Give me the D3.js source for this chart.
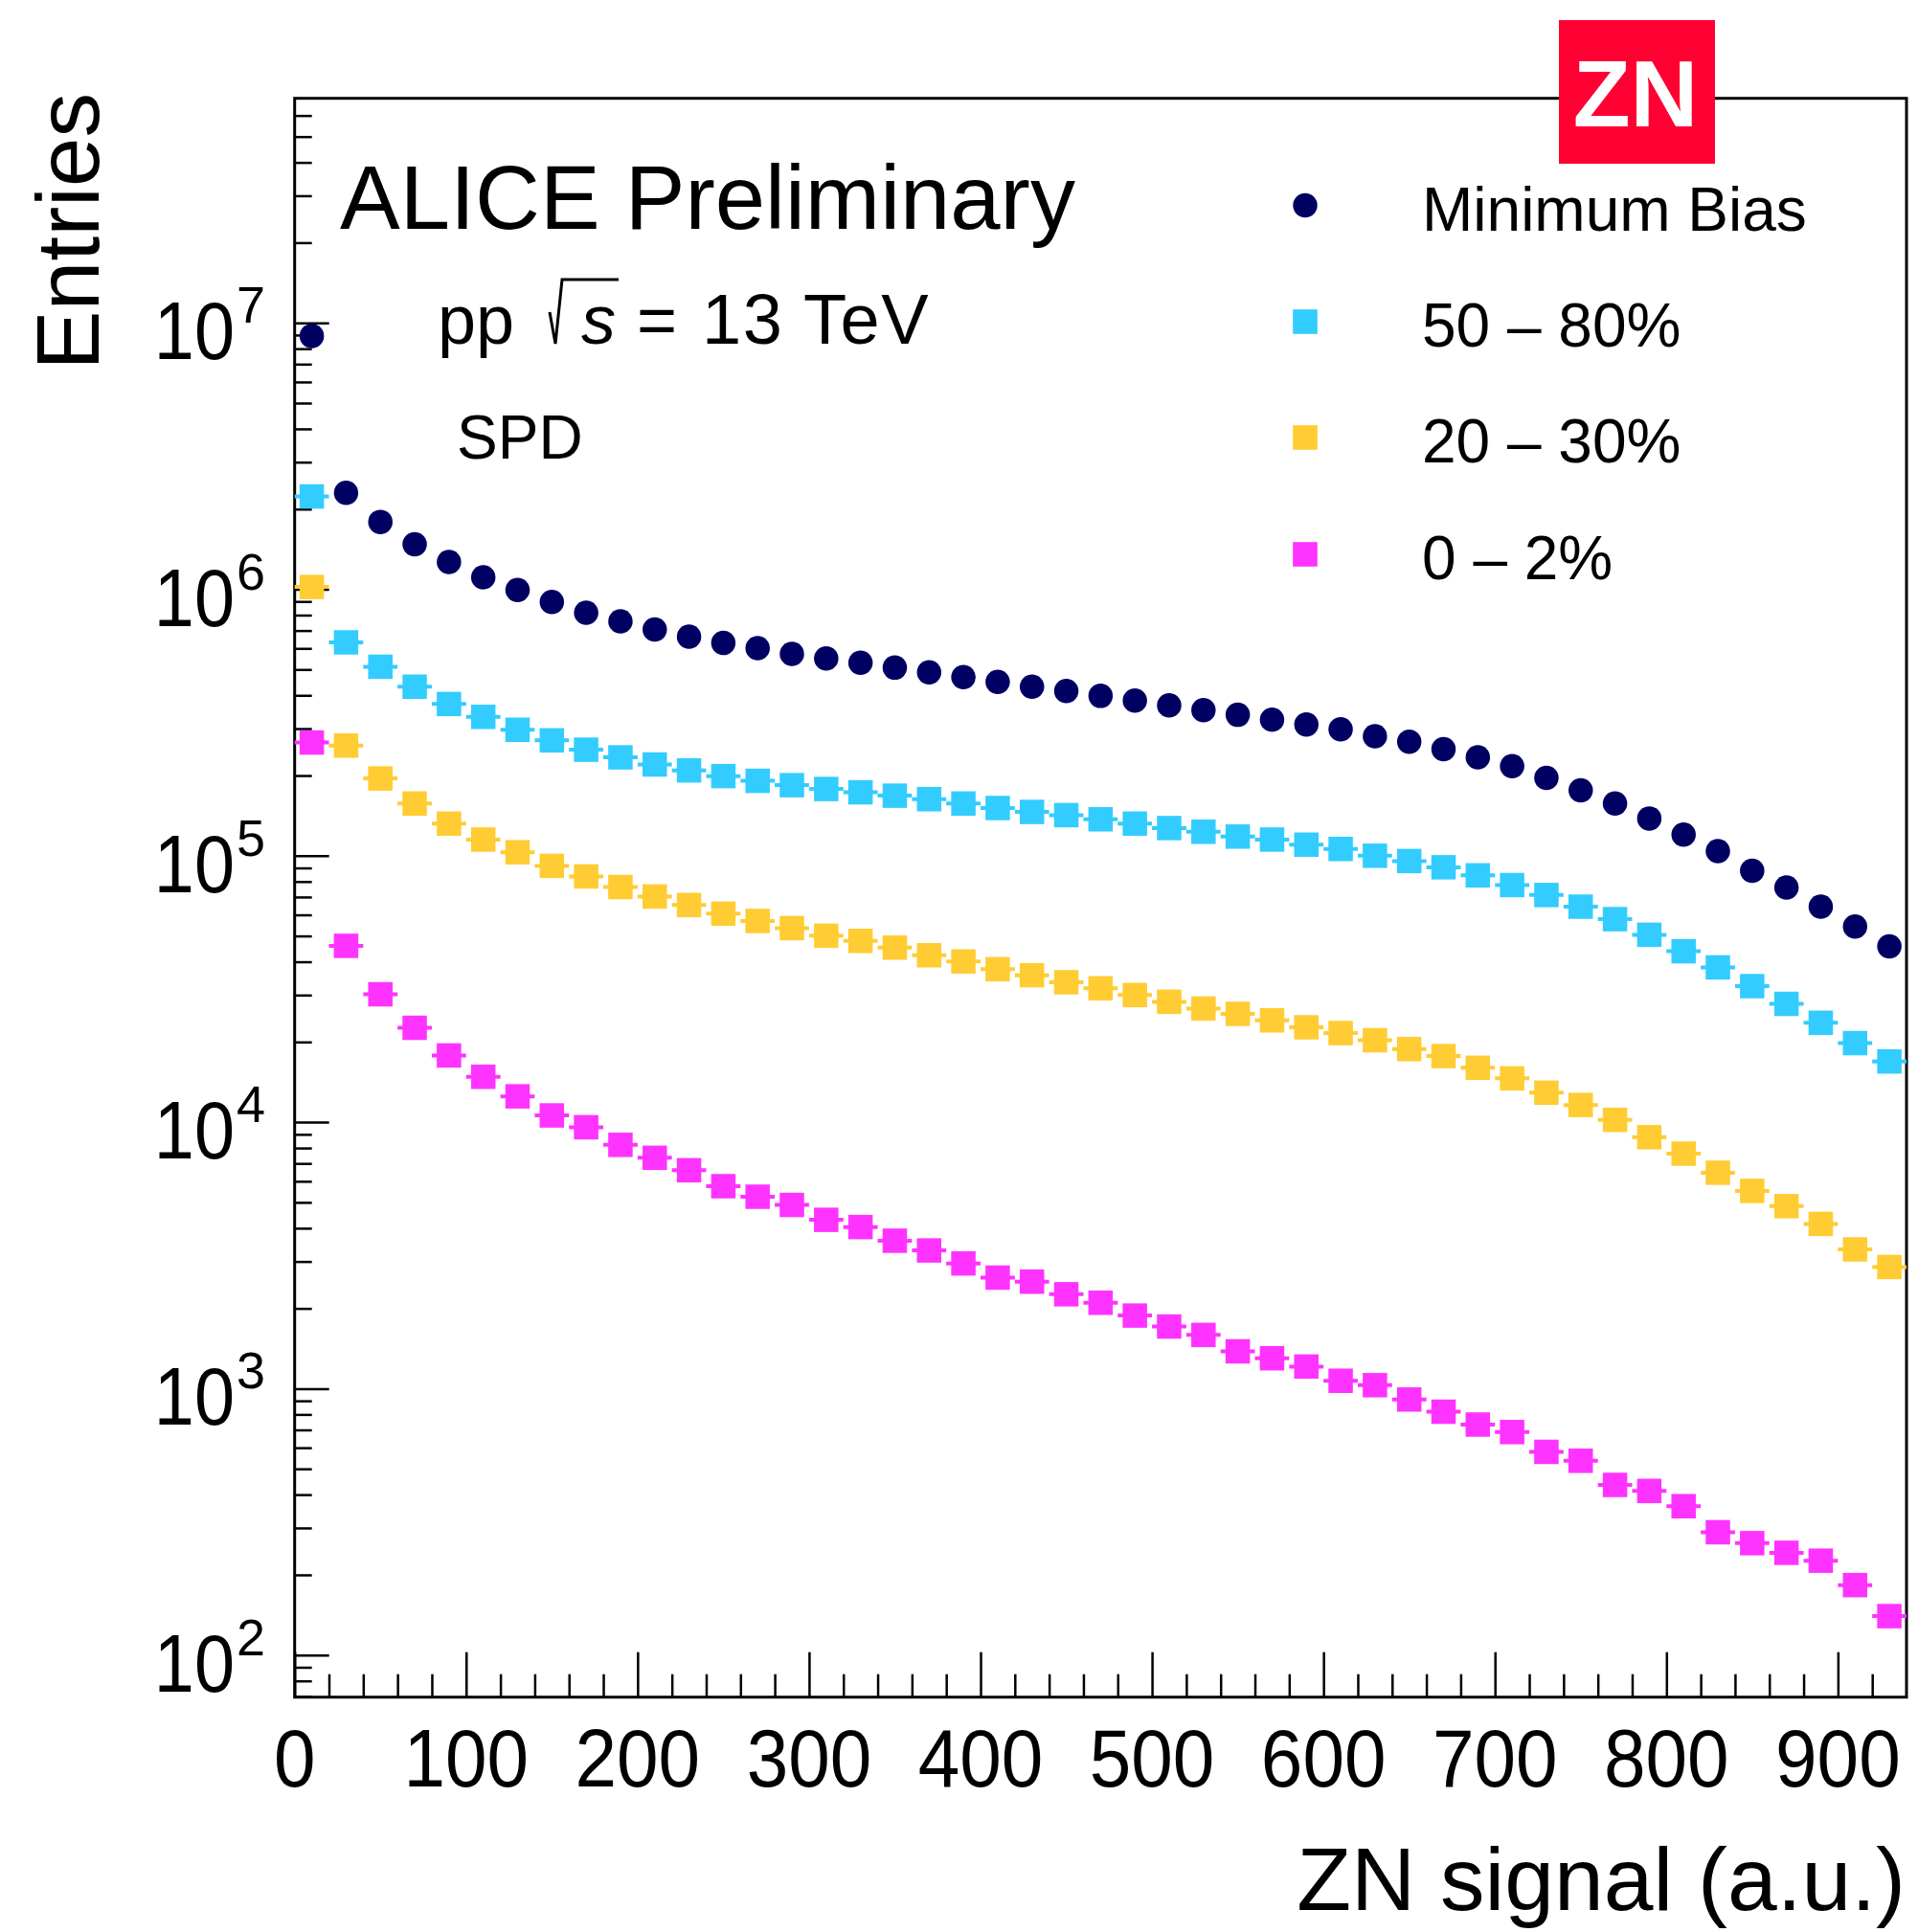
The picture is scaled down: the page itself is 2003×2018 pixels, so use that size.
<!DOCTYPE html>
<html>
<head>
<meta charset="utf-8">
<script src="https://cdn.jsdelivr.net/npm/d3@7"></script>
<style>
body { margin: 0; background: #fff; }
text { font-family: "Liberation Sans", Arial, Helvetica, sans-serif; fill: #000; }
</style>
</head>
<body>
<svg id="chart" width="2003" height="2018"></svg>
<script>
// bin centres of the ZN signal histogram (bin width 20)
var binCenters = [10, 30, 50, 70, 90, 110, 130, 150, 170, 190,
    210, 230, 250, 270, 290, 310, 330, 350, 370, 390,
    410, 430, 450, 470, 490, 510, 530, 550, 570, 590,
    610, 630, 650, 670, 690, 710, 730, 750, 770, 790,
    810, 830, 850, 870, 890, 910, 930];

var minBias = [8.93e6, 2.30e6, 1.79e6, 1.476e6, 1.267e6, 1.11e6, 9.93e5, 8.96e5, 8.17e5, 7.58e5,
    7.07e5, 6.64e5, 6.29e5, 6.01e5, 5.72e5, 5.5e5, 5.30e5, 5.08e5, 4.88e5, 4.68e5,
    4.49e5, 4.31e5, 4.15e5, 3.98e5, 3.82e5, 3.67e5, 3.52e5, 3.38e5, 3.24e5, 3.11e5,
    2.98e5, 2.81e5, 2.68e5, 2.51e5, 2.34e5, 2.17e5, 1.96e5, 1.76e5, 1.57e5, 1.38e5,
    1.20e5, 1.04e5, 8.79e4, 7.60e4, 6.44e4, 5.42e4, 4.57e4];

var cent50to80 = [2.23e6, 6.32e5, 5.12e5, 4.31e5, 3.71e5, 3.32e5, 2.97e5, 2.71e5, 2.50e5, 2.34e5,
    2.20e5, 2.09e5, 1.99e5, 1.91e5, 1.84e5, 1.78e5, 1.73e5, 1.68e5, 1.63e5, 1.57e5,
    1.51e5, 1.46e5, 1.42e5, 1.37e5, 1.32e5, 1.27e5, 1.23e5, 1.18e5, 1.15e5, 1.10e5,
    1.06e5, 1.00e5, 9.55e4, 9.05e4, 8.44e4, 7.76e4, 7.12e4, 6.44e4, 5.78e4, 5.05e4,
    4.38e4, 3.81e4, 3.24e4, 2.78e4, 2.36e4, 1.98e4, 1.69e4];

var cent20to30 = [1.02e6, 2.59e5, 1.95e5, 1.57e5, 1.32e5, 1.15e5, 1.03e5, 9.16e4, 8.36e4, 7.63e4,
    7.03e4, 6.53e4, 6.06e4, 5.69e4, 5.35e4, 5.01e4, 4.79e4, 4.52e4, 4.23e4, 4.01e4,
    3.75e4, 3.56e4, 3.35e4, 3.18e4, 3.00e4, 2.83e4, 2.67e4, 2.55e4, 2.41e4, 2.27e4,
    2.16e4, 2.03e4, 1.88e4, 1.77e4, 1.60e4, 1.46e4, 1.29e4, 1.16e4, 1.02e4, 8780,
    7620, 6460, 5520, 4840, 4150, 3330, 2860];

var cent0to2 = [2.66e5, 4.59e4, 3.02e4, 2.26e4, 1.78e4, 1.48e4, 1.25e4, 1.06e4, 9570, 8220,
    7350, 6600, 5750, 5250, 4890, 4300, 4040, 3590, 3300, 2950,
    2610, 2520, 2260, 2100, 1880, 1710, 1590, 1380, 1300, 1210,
    1070, 1030, 910, 819, 733, 687, 579, 536, 435, 413,
    362, 289, 263, 242, 226, 183, 140];

var seriesNames = ["Minimum Bias", "50 \u2013 80%", "20 \u2013 30%", "0 \u2013 2%"];
var seriesColors = ["#000062", "#33ccff", "#ffcc33", "#ff33ff"];
var seriesMarkers = ["circle", "square", "square", "square"];

var xTickLabels = [0, 100, 200, 300, 400, 500, 600, 700, 800, 900];
var yDecades = [1e2, 1e3, 1e4, 1e5, 1e6, 1e7];
var yExponents = ["2", "3", "4", "5", "6", "7"];

window.onload = function(e) {
    var svg = d3.select("#chart");
    var left = 307.7, right = 1991, top = 102.7, bottom = 1772.7;
    var binWidth = 20;

    var x = d3.scaleLinear().domain([0, 940]).range([left, right]);
    var y = d3.scaleLog().domain([69.5, 6.96e7]).range([bottom, top]);

    svg.append("rect").attr("width", 2003).attr("height", 2018).attr("fill", "#fff");

    // ticks (inward, ROOT style)
    var xMinor = x.ticks(47).filter(function(d) { return d % 100 !== 0 && d < 940; });
    var gx1 = svg.append("g").attr("transform", "translate(0," + bottom + ")")
        .call(d3.axisBottom(x).tickValues(xMinor).tickSize(-24).tickFormat(""));
    var gx2 = svg.append("g").attr("transform", "translate(0," + bottom + ")")
        .call(d3.axisBottom(x).tickValues(xTickLabels).tickSize(-47).tickFormat(""));

    var yMinor = y.ticks().filter(function(d) {
        return Math.abs(Math.log10(d) - Math.round(Math.log10(d))) > 1e-6;
    });
    var gy1 = svg.append("g").attr("transform", "translate(" + left + ",0)")
        .call(d3.axisLeft(y).tickValues(yMinor).tickSize(-18).tickFormat(""));
    var gy2 = svg.append("g").attr("transform", "translate(" + left + ",0)")
        .call(d3.axisLeft(y).tickValues(yDecades).tickSize(-36).tickFormat(""));

    [gx1, gx2, gy1, gy2].forEach(function(g) {
        g.select(".domain").remove();
        g.selectAll("line").attr("stroke", "#000").attr("stroke-width", 2.5);
    });

    // frame
    svg.append("rect")
        .attr("x", left).attr("y", top)
        .attr("width", right - left).attr("height", bottom - top)
        .attr("fill", "none").attr("stroke", "#000").attr("stroke-width", 3);

    // x tick labels
    svg.selectAll(".xlab").data(xTickLabels)
        .enter().append("text")
        .attr("class", "xlab")
        .attr("transform", function(d) { return "translate(" + x(d) + ",1866) scale(0.91,1)"; })
        .attr("text-anchor", "middle")
        .attr("font-size", 86)
        .text(function(d) { return d; });

    // y tick labels 10^n
    svg.selectAll(".ylab").data(yDecades)
        .enter().append("text")
        .attr("class", "ylab")
        .attr("transform", function(d) { return "translate(245," + (y(d) + 38) + ") scale(0.88,1)"; })
        .attr("text-anchor", "end")
        .attr("font-size", 86)
        .text("10");
    svg.selectAll(".yexp").data(yDecades)
        .enter().append("text")
        .attr("class", "yexp")
        .attr("x", 247)
        .attr("y", function(d) { return y(d); })
        .attr("font-size", 54)
        .text(function(d, i) { return yExponents[i]; });

    // axis titles
    svg.append("text")
        .attr("x", 1990).attr("y", 1995)
        .attr("text-anchor", "end")
        .attr("font-size", 93)
        .text("ZN signal (a.u.)");
    svg.append("text")
        .attr("transform", "translate(103,97) rotate(-90)")
        .attr("text-anchor", "end")
        .attr("font-size", 93)
        .text("Entries");

    // data
    var allSeries = [minBias, cent50to80, cent20to30, cent0to2];
    var markerSize = 25.5;
    allSeries.forEach(function(values, s) {
        var pts = binCenters.map(function(c, i) { return { x: c, v: values[i] }; });
        var g = svg.append("g").attr("fill", seriesColors[s]);
        if (seriesMarkers[s] === "circle") {
            g.selectAll("circle").data(pts)
                .enter().append("circle")
                .attr("cx", function(d) { return x(d.x); })
                .attr("cy", function(d) { return y(d.v); })
                .attr("r", markerSize / 2);
        } else {
            g.selectAll("line").data(pts)
                .enter().append("line")
                .attr("x1", function(d) { return x(d.x - binWidth / 2); })
                .attr("x2", function(d) { return x(d.x + binWidth / 2); })
                .attr("y1", function(d) { return y(d.v); })
                .attr("y2", function(d) { return y(d.v); })
                .attr("stroke", seriesColors[s])
                .attr("stroke-width", 4);
            g.selectAll("rect").data(pts)
                .enter().append("rect")
                .attr("x", function(d) { return x(d.x) - markerSize / 2; })
                .attr("y", function(d) { return y(d.v) - markerSize / 2; })
                .attr("width", markerSize)
                .attr("height", markerSize);
        }
    });

    // labels in the pad
    svg.append("text").attr("x", 355).attr("y", 239).attr("font-size", 94).text("ALICE Preliminary");
    svg.append("text").attr("x", 457).attr("y", 359).attr("font-size", 72).text("pp");
    svg.append("path")
        .attr("d", "M574,326 L580,359 L587,292 L646,292")
        .attr("fill", "none").attr("stroke", "#000").attr("stroke-width", 3);
    svg.append("text").attr("x", 607).attr("y", 359).attr("font-size", 72)
        .attr("font-style", "italic").text("s");
    svg.append("text").attr("x", 665).attr("y", 359).attr("font-size", 72).text("=");
    svg.append("text").attr("x", 733).attr("y", 359).attr("font-size", 74)
        .attr("letter-spacing", 1.5).text("13 TeV");
    svg.append("text").attr("x", 477).attr("y", 479).attr("font-size", 64).text("SPD");

    // legend
    var legendY = [214.5, 336, 457, 579];
    var leg = svg.selectAll(".leg").data(seriesNames)
        .enter().append("g").attr("class", "leg");
    leg.each(function(d, i) {
        var g = d3.select(this);
        if (seriesMarkers[i] === "circle") {
            g.append("circle").attr("cx", 1363).attr("cy", legendY[i]).attr("r", 12.7)
                .attr("fill", seriesColors[i]);
        } else {
            g.append("rect").attr("x", 1363 - 12.8).attr("y", legendY[i] - 12.8)
                .attr("width", 25.6).attr("height", 25.6).attr("fill", seriesColors[i]);
        }
        g.append("text").attr("x", 1485).attr("y", legendY[i] + 26)
            .attr("font-size", 64).text(d);
    });

    // ZN logo
    svg.append("rect").attr("x", 1628).attr("y", 21).attr("width", 163).attr("height", 150)
        .attr("fill", "#ff0033");
    svg.append("text").attr("x", 1708).attr("y", 132)
        .attr("text-anchor", "middle").attr("font-size", 98).attr("font-weight", "bold")
        .style("fill", "#fff").text("ZN");
};
</script>
</body>
</html>
